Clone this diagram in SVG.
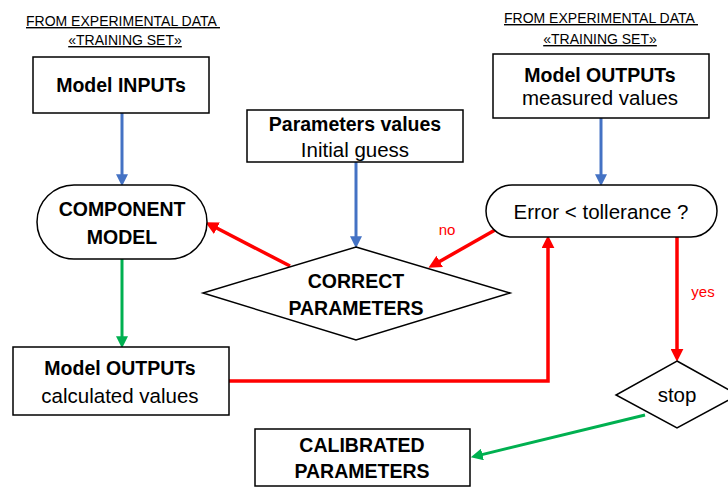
<svg xmlns="http://www.w3.org/2000/svg" width="728" height="487" viewBox="0 0 728 487">
<style>
text{font-family:"Liberation Sans",Arial,sans-serif;fill:#000;text-anchor:middle}
.t{font-size:14px;text-decoration:underline;white-space:pre}
.b{font-size:19.5px;font-weight:bold}
.r{font-size:20.5px}
.lbl{font-size:15px;fill:#FF0000}
.shape{fill:#fff;stroke:#000;stroke-width:1.5}
.blue{stroke:#4472C4;stroke-width:3;fill:none}
.red{stroke:#FF0000;stroke-width:3.5;fill:none}
.green{stroke:#00B050;stroke-width:3;fill:none}
</style>
<defs>
<marker id="ab" markerUnits="userSpaceOnUse" markerWidth="12" markerHeight="12" refX="4" refY="5" orient="auto" viewBox="0 0 10 10"><path d="M0,0 L10,5 L0,10 z" fill="#4472C4"/></marker>
<marker id="ar" markerUnits="userSpaceOnUse" markerWidth="13" markerHeight="13" refX="4" refY="5" orient="auto" viewBox="0 0 10 10"><path d="M0,0 L10,5 L0,10 z" fill="#FF0000"/></marker>
<marker id="ag" markerUnits="userSpaceOnUse" markerWidth="12" markerHeight="12" refX="4" refY="5" orient="auto" viewBox="0 0 10 10"><path d="M0,0 L10,5 L0,10 z" fill="#00B050"/></marker>
</defs>
<rect width="728" height="487" fill="#fff"/>
<g id="title-left">
<text class="t" x="123" y="26">FROM EXPERIMENTAL DATA </text>
<text class="t" x="125" y="45">«TRAINING SET»</text>
</g>
<g id="title-right">
<text class="t" x="601" y="23">FROM EXPERIMENTAL DATA </text>
<text class="t" x="600" y="44">«TRAINING SET»</text>
</g>
<g id="connectors">
<line class="blue" x1="122" y1="113" x2="122" y2="179" marker-end="url(#ab)"/>
<line class="blue" x1="356" y1="162" x2="356" y2="241" marker-end="url(#ab)"/>
<line class="blue" x1="601" y1="118" x2="601" y2="179" marker-end="url(#ab)"/>
<line class="green" x1="122" y1="259" x2="122" y2="341" marker-end="url(#ag)"/>
<line class="red" x1="290" y1="266" x2="212.3" y2="225.8" marker-end="url(#ar)"/>
<polyline class="red" points="229,381 548,381 548,243" marker-end="url(#ar)"/>
<line class="red" x1="495" y1="230" x2="435.2" y2="264" marker-end="url(#ar)"/>
<line class="red" x1="677" y1="237" x2="677" y2="354" marker-end="url(#ar)"/>
<line class="green" x1="645" y1="415" x2="477.8" y2="455.6" marker-end="url(#ag)"/>
<text class="lbl" x="447" y="235">no</text>
<text class="lbl" x="703" y="297">yes</text>
</g>
<g id="model-inputs">
<rect class="shape" x="33" y="57" width="176" height="56"/>
<text class="b" x="121" y="92">Model INPUTs</text>
</g>
<g id="measured-outputs">
<rect class="shape" x="493" y="54" width="216" height="64"/>
<text class="b" x="600" y="82">Model OUTPUTs</text>
<text class="r" x="600" y="105">measured values</text>
</g>
<g id="parameters">
<rect class="shape" x="247" y="110" width="216" height="52"/>
<text class="b" x="355" y="131">Parameters values</text>
<text class="r" x="355" y="157">Initial guess</text>
</g>
<g id="component-model">
<rect class="shape" x="37" y="185" width="170" height="74" rx="37" ry="37"/>
<text class="b" x="122" y="216">COMPONENT</text>
<text class="b" x="122" y="244">MODEL</text>
</g>
<g id="correct-parameters">
<polygon class="shape" points="356,247 510,293 356,340 203,293"/>
<text class="b" x="356" y="288">CORRECT</text>
<text class="b" x="356" y="315">PARAMETERS</text>
</g>
<g id="error-check">
<rect class="shape" x="486" y="185" width="231" height="52" rx="26" ry="26"/>
<text class="r" x="601" y="219">Error &lt; tollerance ?</text>
</g>
<g id="calculated-outputs">
<rect class="shape" x="13" y="347" width="216" height="68"/>
<text class="b" x="120" y="375">Model OUTPUTs</text>
<text class="r" x="120" y="403">calculated values</text>
</g>
<g id="stop">
<polygon class="shape" points="677,361 738,395 677,428 616,395"/>
<text class="r" x="677" y="402">stop</text>
</g>
<g id="calibrated-parameters">
<rect class="shape" x="255" y="429" width="215" height="57"/>
<text class="b" x="362" y="452">CALIBRATED</text>
<text class="b" x="362" y="478">PARAMETERS</text>
</g>
</svg>
